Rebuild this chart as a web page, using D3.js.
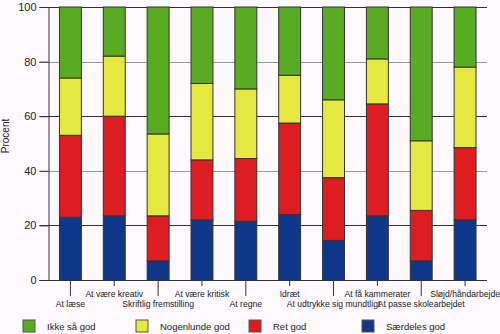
<!DOCTYPE html>
<html>
<head>
<meta charset="utf-8">
<script src="https://cdn.jsdelivr.net/npm/d3@7"></script>
<style>
  body { margin: 0; background: #fdf9fd; }
  text { font-family: "Liberation Sans", Arial, sans-serif; fill: #222; }
</style>
</head>
<body>
<div id="chart-area"></div>
<script>
var categories = ["At læse", "At være kreativ", "Skriftlig fremstilling", "At være kritisk",
    "At regne", "Idræt", "At udtrykke sig mundtligt", "At få kammerater",
    "At passe skolearbejdet", "Sløjd/håndarbejde"];

// segment sizes, bottom to top
var saerdelesGod = [23, 23.5, 7, 22, 21.5, 24, 14.5, 23.5, 7, 22];
var retGod = [30, 36.5, 16.5, 22, 23, 33.5, 23, 41, 18.5, 26.5];
var nogenlundeGod = [21, 22, 30, 28, 25.5, 17.5, 28.5, 16.5, 25.5, 29.5];
var ikkeSaaGod = [26, 18, 46.5, 28, 30, 25, 34, 19, 49, 22];

var seriesNames = ["Ikke så god", "Nogenlunde god", "Ret god", "Særdeles god"];
var seriesColors = ["#58ab22", "#e6e842", "#dd1d22", "#0f378a"];
var yTicks = [0, 20, 40, 60, 80, 100];

var width = 500, height = 334;
var margin = { top: 7, right: 13, bottom: 54, left: 48.5 };
var innerW = width - margin.left - margin.right;
var innerH = height - margin.top - margin.bottom;

var svg = d3.select("#chart-area")
    .append("svg")
    .attr("width", width)
    .attr("height", height);

var g = svg.append("g")
    .attr("transform", "translate(" + margin.left + "," + margin.top + ")");

var x = d3.scaleBand()
    .domain(categories)
    .range([0, innerW])
    .paddingInner(0.5)
    .paddingOuter(0.25);

var y = d3.scaleLinear()
    .domain([0, 100])
    .range([innerH, 0]);

// build stack table from the arrays
var table = categories.map(function(c, i) {
    return {
        cat: c,
        "Særdeles god": saerdelesGod[i],
        "Ret god": retGod[i],
        "Nogenlunde god": nogenlundeGod[i],
        "Ikke så god": ikkeSaaGod[i]
    };
});
var stackKeys = ["Særdeles god", "Ret god", "Nogenlunde god", "Ikke så god"];
var stacked = d3.stack().keys(stackKeys)(table);
var color = d3.scaleOrdinal().domain(seriesNames).range(seriesColors);

// gridlines
g.selectAll("line.grid")
    .data(yTicks.filter(function(d) { return d > 0; }))
    .enter()
    .append("line")
    .attr("class", "grid")
    .attr("x1", -9)
    .attr("x2", innerW)
    .attr("y1", function(d) { return Math.round(y(d)) + 0.5; })
    .attr("y2", function(d) { return Math.round(y(d)) + 0.5; })
    .attr("stroke", function(d) { return d === 40 ? "#999" : "#333"; })
    .attr("stroke-dasharray", function(d) { return d === 80 ? "1,1" : null; })
    .attr("stroke-width", 1.2);

// y axis
var yAxis = g.append("g")
    .call(d3.axisLeft(y).tickValues(yTicks).tickSize(9).tickPadding(3));
yAxis.select(".domain").attr("stroke", "#333");
yAxis.selectAll(".tick line").attr("stroke", "#333");
yAxis.selectAll("text")
    .attr("font-size", "11px")
    .attr("font-family", "Liberation Sans, Arial, sans-serif")
    .attr("fill", "#222");

g.append("text")
    .attr("transform", "rotate(-90)")
    .attr("x", -(136 - margin.top))
    .attr("y", -40)
    .attr("text-anchor", "middle")
    .attr("font-size", "10px")
    .text("Procent");

// bars
g.selectAll("g.series")
    .data(stacked)
    .enter()
    .append("g")
    .attr("class", "series")
    .attr("fill", function(d) { return color(d.key); })
    .selectAll("rect")
    .data(function(d) { return d; })
    .enter()
    .append("rect")
    .attr("x", function(d) { return x(d.data.cat); })
    .attr("y", function(d) { return y(d[1]); })
    .attr("width", x.bandwidth())
    .attr("height", function(d) { return y(d[0]) - y(d[1]); })
    .attr("stroke", "#333")
    .attr("stroke-width", 1);

// x axis baseline
g.append("line")
    .attr("x1", -9)
    .attr("x2", innerW)
    .attr("y1", innerH + 0.5)
    .attr("y2", innerH + 0.5)
    .attr("stroke", "#333")
    .attr("stroke-width", 1.2);

// staggered category ticks and labels
var xLab = g.selectAll("g.xlab")
    .data(categories)
    .enter()
    .append("g")
    .attr("class", "xlab")
    .attr("transform", function(d) {
        return "translate(" + (x(d) + x.bandwidth() / 2) + "," + innerH + ")";
    });

xLab.append("line")
    .attr("y1", 0)
    .attr("y2", function(d, i) { return i % 2 === 0 ? 16 : 6; })
    .attr("stroke", "#333");

xLab.append("text")
    .attr("y", function(d, i) { return i % 2 === 0 ? 27 : 17; })
    .attr("text-anchor", "middle")
    .attr("font-size", "8.6px")
    .text(function(d) { return d; });

// legend
var legend = svg.append("g")
    .attr("transform", "translate(23,320)");

var item = legend.selectAll("g")
    .data(seriesNames)
    .enter()
    .append("g")
    .attr("transform", function(d, i) { return "translate(" + (i * 113) + ",0)"; });

item.append("rect")
    .attr("width", 12)
    .attr("height", 12)
    .attr("fill", function(d) { return color(d); })
    .attr("stroke", "#555");

item.append("text")
    .attr("x", 24)
    .attr("y", 10)
    .attr("font-size", "9.5px")
    .text(function(d) { return d; });
</script>
</body>
</html>
